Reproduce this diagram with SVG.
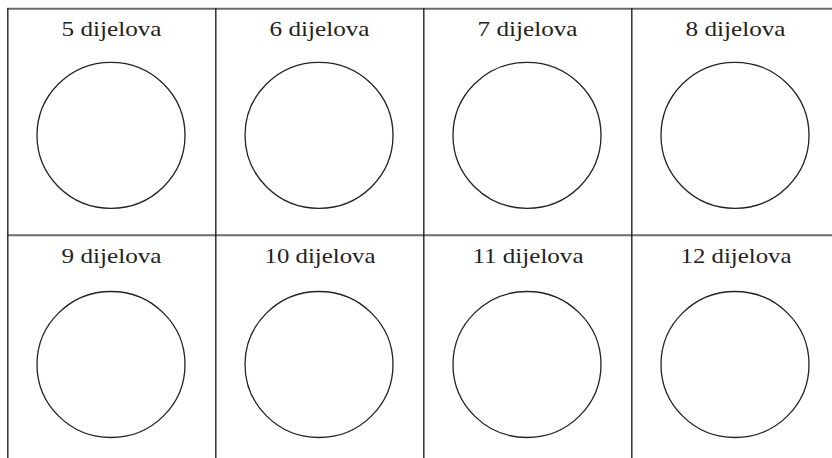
<svg xmlns="http://www.w3.org/2000/svg" width="832" height="458" viewBox="0 0 832 458">
<style>
.grid-h{stroke:#6b6b6b;stroke-width:2;fill:none}
.grid-v{stroke:#222;stroke-width:1.4;fill:none}
.c{fill:none;stroke:#222;stroke-width:1.3}
.t{font-family:'Liberation Serif','Times New Roman',serif;font-size:22px;fill:#222;text-anchor:middle}
</style>
<rect width="832" height="458" fill="#fff"/>
<g id="grid">
<line class="grid-h" x1="7" y1="8.7" x2="832" y2="8.7"/>
<line class="grid-h" x1="7" y1="235.3" x2="832" y2="235.3"/>
<line class="grid-v" x1="7.8" y1="8" x2="7.8" y2="458"/>
<line class="grid-v" x1="215.8" y1="8" x2="215.8" y2="458"/>
<line class="grid-v" x1="423.8" y1="8" x2="423.8" y2="458"/>
<line class="grid-v" x1="631.8" y1="8" x2="631.8" y2="458"/>
</g>
<g id="cell5"><text class="t" x="111.5" y="36" textLength="100" lengthAdjust="spacingAndGlyphs">5 dijelova</text><ellipse class="c" cx="111" cy="135.3" rx="74" ry="73"/></g>
<g id="cell6"><text class="t" x="319.5" y="36" textLength="100" lengthAdjust="spacingAndGlyphs">6 dijelova</text><ellipse class="c" cx="319" cy="135.3" rx="74" ry="73"/></g>
<g id="cell7"><text class="t" x="527.5" y="36" textLength="100" lengthAdjust="spacingAndGlyphs">7 dijelova</text><ellipse class="c" cx="527" cy="135.3" rx="74" ry="73"/></g>
<g id="cell8"><text class="t" x="735.5" y="36" textLength="100" lengthAdjust="spacingAndGlyphs">8 dijelova</text><ellipse class="c" cx="735" cy="135.3" rx="74" ry="73"/></g>
<g id="cell9"><text class="t" x="111.5" y="263.3" textLength="100" lengthAdjust="spacingAndGlyphs">9 dijelova</text><ellipse class="c" cx="111" cy="364.5" rx="74" ry="73"/></g>
<g id="cell10"><text class="t" x="320" y="263.3" textLength="111" lengthAdjust="spacingAndGlyphs">10 dijelova</text><ellipse class="c" cx="319" cy="364.5" rx="74" ry="73"/></g>
<g id="cell11"><text class="t" x="528" y="263.3" textLength="111" lengthAdjust="spacingAndGlyphs">11 dijelova</text><ellipse class="c" cx="527" cy="364.5" rx="74" ry="73"/></g>
<g id="cell12"><text class="t" x="736" y="263.3" textLength="111" lengthAdjust="spacingAndGlyphs">12 dijelova</text><ellipse class="c" cx="735" cy="364.5" rx="74" ry="73"/></g>
</svg>
